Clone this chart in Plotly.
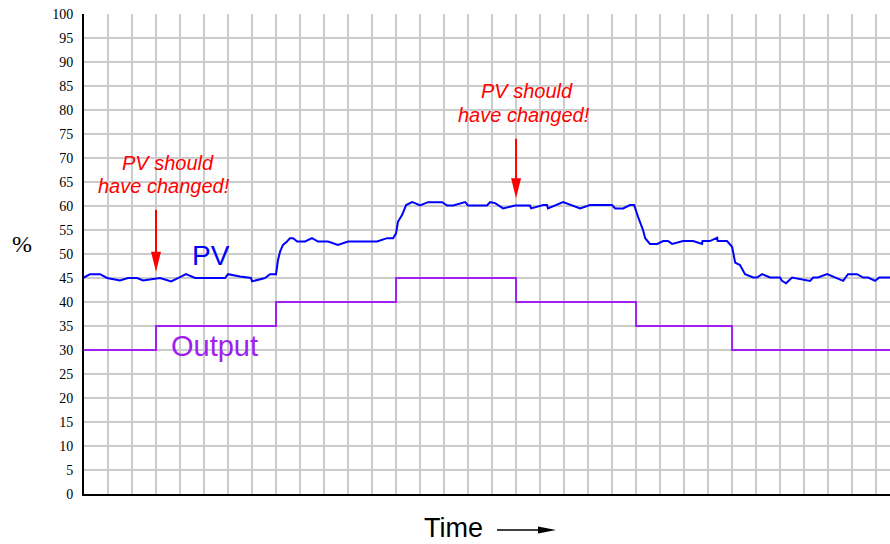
import plotly.graph_objects as go

# Process variable trace (time in grid divisions, value in %)
pv_time = [0, 0.25, 0.67, 0.96, 1.5, 1.83, 2.21, 2.46, 3.17, 3.63, 4.0, 4.25, 4.63, 5.88,
           6.0, 6.5, 6.96, 7.0, 7.54, 7.75, 8.0, 8.08, 8.17, 8.29, 8.46, 8.58, 8.71, 8.88,
           9.21, 9.5, 9.75, 10.17, 10.58, 11.0, 12.21, 12.63, 12.88, 13.0, 13.08, 13.25,
           13.42, 13.67, 13.79, 14.0, 14.33, 14.92, 15.13, 15.38, 15.88, 16.0, 16.79,
           16.92, 17.13, 17.46, 17.96, 18.58, 18.63, 19.13, 19.29, 19.33, 19.96, 20.67,
           21.08, 22.0, 22.13, 22.46, 22.75, 22.92, 23.08, 23.29, 23.38, 23.58, 23.88,
           24.13, 24.33, 24.5, 24.96, 25.38, 25.75, 25.77, 26.08, 26.38, 26.40, 26.79,
           27.0, 27.08, 27.13, 27.33, 27.46, 27.54, 27.88, 28.04, 28.25, 28.58, 29.0,
           29.08, 29.25, 29.5, 30.25, 30.38, 30.58, 30.96, 31.63, 31.83, 32.21, 32.46,
           32.67, 32.96, 33.13, 33.58]
pv_value = [45.1, 45.8, 45.8, 45.0, 44.5, 45.0, 45.0, 44.5, 45.0, 44.3, 45.2, 45.8, 45.0, 45.0,
            45.8, 45.3, 45.0, 44.3, 45.0, 45.8, 45.8, 48.7, 50.5, 51.9, 52.6, 53.3, 53.3, 52.6,
            52.6, 53.3, 52.6, 52.6, 51.9, 52.6, 52.6, 53.3, 53.3, 54.3, 56.7, 58.1,
            60.2, 60.8, 60.6, 60.1, 60.8, 60.8, 60.1, 60.1, 60.8, 60.1, 60.1,
            60.8, 60.6, 59.5, 60.1, 60.1, 59.5, 60.2, 60.2, 59.5, 60.8, 59.5,
            60.2, 60.2, 59.5, 59.5, 60.2, 60.2, 57.8, 55.0, 53.3, 52.1, 52.1,
            52.7, 52.7, 52.1, 52.7, 52.7, 52.1, 52.7, 52.7, 53.4, 52.7, 52.7,
            51.5, 49.8, 48.2, 47.7, 46.3, 45.8, 45.1, 45.1, 45.8, 45.1, 45.1,
            44.4, 43.9, 45.1, 44.4, 45.1, 45.1, 45.8, 44.4, 45.8, 45.8, 45.1,
            45.1, 44.4, 45.1, 45.1]

# Controller output steps (held until next change)
out_time = [0, 3, 8, 13, 18, 23, 27, 33.58]
out_value = [30, 35, 40, 45, 40, 35, 30, 30]

# Annotated instants where the PV should have responded
note_time = [3, 18]
note_tip = [46.3, 61.6]
note_tail = [59.2, 74.0]
note_lines = ["PV should", "have changed!"]
note_line_x = [[3.48, 3.35], [18.46, 18.33]]
note_line_y = [[68.96, 64.17], [83.96, 79.02]]

y_ticks = list(range(0, 101, 5))
X_MAX = 33.58

W, H = 890, 544
L, R, T, B = 84, 0, 14, 50
PW, PH = W - L - R, H - T - B

PV_COLOR = "#0000ff"
OUT_COLOR = "#a020f0"
RED = "#ff0000"
SANS = "Liberation Sans, Arial"
SERIF = "Liberation Serif, Times New Roman"

fig = go.Figure()
fig.add_trace(go.Scatter(x=pv_time, y=pv_value, mode="lines",
                         line=dict(color=PV_COLOR, width=2), hoverinfo="skip"))
fig.add_trace(go.Scatter(x=out_time, y=out_value, mode="lines", line_shape="hv",
                         line=dict(color=OUT_COLOR, width=2), hoverinfo="skip"))

# data-unit size of one pixel
px_x = X_MAX / PW
px_y = 100 / PH

shapes = []
annotations = []
for t, tip, tail, lx, ly in zip(note_time, note_tip, note_tail, note_line_x, note_line_y):
    head_len = 20 * px_y
    half_w = 5 * px_x
    shapes.append(dict(type="line", xref="x", yref="y", x0=t, x1=t, y0=tail, y1=tip + head_len * 0.8,
                       line=dict(color=RED, width=2)))
    shapes.append(dict(type="path", xref="x", yref="y",
                       path=f"M{t},{tip} L{t - half_w},{tip + head_len} L{t + half_w},{tip + head_len} Z",
                       fillcolor=RED, line=dict(color=RED, width=0)))
    for text, x, y in zip(note_lines, lx, ly):
        annotations.append(dict(x=x, y=y, xref="x", yref="y", showarrow=False,
                                text=f"<i>{text}</i>",
                                font=dict(family=SANS, size=20, color=RED),
                                xanchor="center", yanchor="middle"))

annotations.append(dict(x=5.3, y=49.6, xref="x", yref="y", showarrow=False, text="PV",
                        font=dict(family=SANS, size=28, color=PV_COLOR),
                        xanchor="center", yanchor="middle"))
annotations.append(dict(x=5.45, y=30.9, xref="x", yref="y", showarrow=False, text="Output",
                        font=dict(family=SANS, size=29, color=OUT_COLOR),
                        xanchor="center", yanchor="middle"))


def paper_x(px):
    return (px - L) / PW


def paper_y(py):
    return (H - B - py) / PH


annotations.append(dict(x=paper_x(22), y=paper_y(244), xref="paper", yref="paper",
                        showarrow=False, text="%",
                        font=dict(family=SERIF, size=24, color="black"),
                        xanchor="center", yanchor="middle"))
annotations.append(dict(x=paper_x(453), y=paper_y(544), xref="paper", yref="paper",
                        showarrow=False, text="Time", borderpad=0,
                        font=dict(family=SANS, size=27, color="black"),
                        xanchor="center", yanchor="bottom"))
# arrow after the time label
shapes.append(dict(type="line", xref="paper", yref="paper",
                   x0=paper_x(497), x1=paper_x(542), y0=paper_y(530), y1=paper_y(530),
                   line=dict(color="black", width=1.5)))
shapes.append(dict(type="path", xref="paper", yref="paper",
                   path=(f"M{paper_x(556)},{paper_y(530)} L{paper_x(538)},{paper_y(526.5)} "
                         f"L{paper_x(538)},{paper_y(533.5)} Z"),
                   fillcolor="black", line=dict(color="black", width=0)))

fig.update_layout(
    width=W, height=H,
    margin=dict(l=L, r=R, t=T, b=B, pad=0),
    paper_bgcolor="white", plot_bgcolor="white",
    showlegend=False,
    shapes=shapes,
    annotations=annotations,
    xaxis=dict(range=[0, X_MAX], tick0=0, dtick=1, showticklabels=False, ticks="",
               showgrid=True, gridcolor="#cccccc", gridwidth=1.5, zeroline=False,
               showline=True, linecolor="black", linewidth=2, fixedrange=True),
    yaxis=dict(range=[0, 100], tickvals=y_ticks, ticktext=[str(v) for v in y_ticks],
               ticks="outside", ticklen=6, tickcolor="rgba(0,0,0,0)",
               tickfont=dict(family=SERIF, size=14, color="black"),
               showgrid=True, gridcolor="#cccccc", gridwidth=1.5, zeroline=False,
               showline=True, linecolor="black", linewidth=2, fixedrange=True),
)

fig.write_html("out.html")
